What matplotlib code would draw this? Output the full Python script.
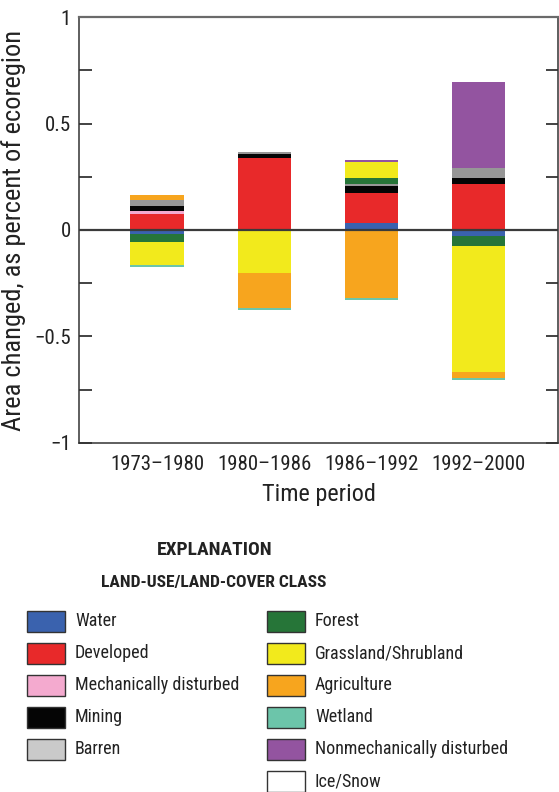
import numpy as np
import matplotlib.pyplot as plt
from matplotlib.patches import Rectangle

plt.rcParams['font.family'] = ['Roboto Condensed', 'Archivo Narrow', 'DejaVu Sans']

periods = ["1973\u20131980", "1980\u20131986", "1986\u20131992", "1992\u20132000"]

classes = ["Water", "Developed", "Mechanically disturbed", "Mining", "Barren",
           "Forest", "Grassland/Shrubland", "Agriculture", "Wetland",
           "Nonmechanically disturbed", "Ice/Snow"]
colors = ["#3a62ae", "#e8292a", "#f4aacf", "#050505", "#979797",
          "#267538", "#f2ea1c", "#f7a51e", "#6cc5aa", "#9354a0", "#ffffff"]
legend_colors = colors[:4] + ["#cacaca"] + colors[5:]

# gains (positive) and losses (negative), percent of ecoregion, per class
gain = {
    "Water":                     [0.0,   0.0,   0.033, 0.0],
    "Developed":                 [0.077, 0.338, 0.141, 0.216],
    "Mechanically disturbed":    [0.010, 0.0,   0.0,   0.0],
    "Mining":                    [0.028, 0.019, 0.033, 0.028],
    "Barren":                    [0.028, 0.009, 0.009, 0.047],
    "Forest":                    [0.0,   0.0,   0.028, 0.0],
    "Grassland/Shrubland":       [0.0,   0.0,   0.075, 0.0],
    "Agriculture":               [0.019, 0.0,   0.0,   0.0],
    "Wetland":                   [0.0,   0.0,   0.0,   0.0],
    "Nonmechanically disturbed": [0.0,   0.0,   0.009, 0.404],
    "Ice/Snow":                  [0.0,   0.0,   0.0,   0.0],
}
loss = {
    "Water":                     [-0.018, 0.0,    0.0,    -0.028],
    "Developed":                 [0.0,    0.0,    0.0,    0.0],
    "Mechanically disturbed":    [0.0,    0.0,    0.0,    0.0],
    "Mining":                    [0.0,    0.0,    0.0,    0.0],
    "Barren":                    [0.0,    0.0,    0.0,    0.0],
    "Forest":                    [-0.037, 0.0,    0.0,    -0.047],
    "Grassland/Shrubland":       [-0.108, -0.202, 0.0,    -0.592],
    "Agriculture":               [0.0,    -0.164, -0.318, -0.028],
    "Wetland":                   [-0.009, -0.009, -0.011, -0.009],
    "Nonmechanically disturbed": [0.0,    0.0,    0.0,    0.0],
    "Ice/Snow":                  [0.0,    0.0,    0.0,    0.0],
}

fig = plt.figure(figsize=(5.59, 7.92), dpi=100)
ax = fig.add_axes([0.1413, 0.4407, 0.8569, 0.5378])

x = np.arange(len(periods))
pos_base = np.zeros(len(periods))
neg_base = np.zeros(len(periods))
for name, c in zip(classes, colors):
    g = np.array(gain[name])
    l = np.array(loss[name])
    ax.bar(x, g, 0.5, bottom=pos_base, color=c, linewidth=0)
    ax.bar(x, l, 0.5, bottom=neg_base, color=c, linewidth=0)
    pos_base += g
    neg_base += l

ax.axhline(0, color="#3a3a3a", lw=1.6, zorder=5)
ax.set_xlim(-0.73, 3.74)
ax.set_ylim(-1, 1)
ax.set_yticks([-1, -0.5, 0, 0.5, 1])
ax.set_yticklabels(["\u22121", "\u22120.5", "0", "0.5", "1"])
ax.set_yticks(np.arange(-1, 1.01, 0.25), minor=True)
ax.set_xticks(x)
ax.set_xticklabels(periods)
ax.tick_params(axis="y", which="both", direction="in", length=9, width=1.2,
               right=True, labelsize=15, colors="#222222", pad=6)
ax.tick_params(axis="x", length=0, labelsize=15, colors="#222222", pad=9)
for s in ax.spines.values():
    s.set_color("#333333")
    s.set_linewidth(1.1)
ax.spines["top"].set_color("#6a6a6a")
ax.spines["top"].set_linewidth(1.6)

ax.set_ylabel("Area changed, as percent of ecoregion", fontsize=19,
              color="#222222", labelpad=6)
ax.set_xlabel("Time period", fontsize=17.5, color="#222222", labelpad=6)

# explanation block
W, H = 559.0, 792.0
fig.text(215 / W, 1 - 550 / H, "EXPLANATION", ha="center", va="center",
         fontsize=14, fontweight="bold", color="#222222")
fig.text(214 / W, 1 - 583 / H, "LAND-USE/LAND-COVER CLASS", ha="center",
         va="center", fontsize=12.6, fontweight="bold", color="#222222")

for i, (name, c) in enumerate(zip(classes, legend_colors)):
    col = 0 if i < 5 else 1
    row = i if i < 5 else i - 5
    px = 27 if col == 0 else 267
    py = 621 + 32 * row
    fig.patches.append(Rectangle((px / W, 1 - (py + 10.5) / H), 38 / W, 21 / H,
                                 transform=fig.transFigure, facecolor=c,
                                 edgecolor="#333333", linewidth=1.0))
    fig.text((px + 48) / W, 1 - py / H, name, ha="left", va="center",
             fontsize=13, color="#222222")

fig.savefig("out.png", dpi=100)
